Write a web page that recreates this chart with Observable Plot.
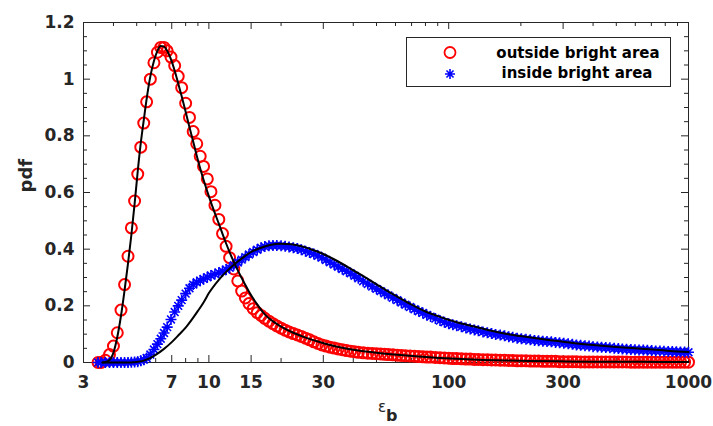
<!DOCTYPE html>
<html><head><meta charset="utf-8">
<script src="https://cdn.jsdelivr.net/npm/d3@7"></script>
<script src="https://cdn.jsdelivr.net/npm/@observablehq/plot@0.6"></script>
<style>
html,body{margin:0;padding:0;background:#fff;}
#wrap{position:relative;width:713px;height:426px;}
#legend{position:absolute;left:406px;top:37px;width:263px;height:48px;border:1px solid #262626;background:#fff;}
#legend svg{display:block;}
</style></head><body>
<div id="wrap"><div id="chart"></div><div id="legend"></div></div>
<script>
// ---------- data ----------
const seriesNames = ["outside bright area", "inside bright area"];

const eps = [3.45,3.55,3.7,3.85,4.0,4.15,4.3,4.45,4.6,4.75,
  4.9,5.05,5.2,5.35,5.5,5.7,5.9,6.1,6.3,6.5,
  6.7,6.95,7.2,7.45,7.7,8.0,8.3,8.6,8.9,9.2,
  9.5,9.85,10.2,10.6,11,11.4,11.8,12.2,12.7,13.2,
  13.7,14.2,14.7,15.3,15.9,16.5,17.1,17.8,18.5,19.2,
  20,20.8,21.6,22.5,23.4,24.3,25.3,26.3,27.4,28.5,
  29.6,30.8,32,33.3,34.6,36,37.5,39,40.5,42,
  44,46,48,50,52,54,56,58.5,61,63.5,
  66,69,72,75,78,81,84,88,92,96,
  100,104,108,113,118,123,128,133,139,145,
  151,157,164,171,178,185,193,201,210,219,
  228,237,247,257,268,279,290,302,315,328,
  341,355,370,385,400,417,434,452,470,490,
  510,530,552,575,598,622,648,674,702,730,
  760,790,823,856,890,926,963,1000];

const outside = [0,0,0.008,0.028,0.058,0.105,0.185,0.275,0.375,0.475,
  0.57,0.665,0.76,0.845,0.92,1.0,1.058,1.095,1.112,1.112,
  1.10,1.078,1.048,1.01,0.97,0.915,0.865,0.815,0.772,0.728,
  0.692,0.648,0.603,0.555,0.505,0.455,0.41,0.37,0.33,0.288,
  0.252,0.228,0.208,0.19,0.176,0.166,0.156,0.146,0.137,0.129,
  0.121,0.114,0.108,0.102,0.097,0.092,0.086,0.08,0.073,0.067,
  0.062,0.058,0.054,0.051,0.048,0.045,0.042,0.04,0.038,0.036,
  0.034,0.033,0.032,0.031,0.03,0.029,0.028,0.027,0.026,0.025,
  0.024,0.023,0.022,0.021,0.02,0.019,0.019,0.018,0.017,0.016,
  0.015,0.014,0.014,0.013,0.012,0.012,0.011,0.011,0.01,0.01,
  0.009,0.009,0.008,0.008,0.007,0.007,0.006,0.006,0.006,0.005,
  0.005,0.005,0.004,0.004,0.004,0.004,0.003,0.003,0.003,0.003,
  0.003,0.002,0.002,0.002,0.002,0.002,0.002,0.002,0.002,0.002,
  0.002,0.002,0.002,0.001,0.001,0.001,0.001,0.001,0.001,0.001,
  0.001,0.001,0.001,0.001,0.001,0.001,0.001,0.001];

const inside = [0,0,0,0,0,0,0,0,0,0.001,
  0.002,0.003,0.006,0.01,0.016,0.028,0.046,0.065,0.084,0.104,
  0.125,0.152,0.178,0.2,0.22,0.243,0.262,0.275,0.283,0.289,
  0.295,0.301,0.307,0.312,0.317,0.322,0.328,0.334,0.343,0.353,
  0.363,0.372,0.381,0.39,0.398,0.405,0.409,0.412,0.413,0.413,
  0.412,0.41,0.408,0.405,0.402,0.398,0.393,0.388,0.383,0.377,
  0.37,0.362,0.354,0.346,0.338,0.33,0.322,0.315,0.306,0.297,
  0.287,0.277,0.268,0.26,0.252,0.244,0.237,0.228,0.22,0.212,
  0.204,0.196,0.188,0.181,0.175,0.168,0.162,0.155,0.148,0.142,
  0.137,0.133,0.13,0.126,0.122,0.118,0.115,0.112,0.108,0.105,
  0.102,0.099,0.097,0.094,0.091,0.089,0.086,0.084,0.082,0.08,
  0.078,0.077,0.075,0.074,0.073,0.071,0.07,0.068,0.066,0.064,
  0.062,0.061,0.059,0.058,0.056,0.055,0.054,0.053,0.052,0.05,
  0.049,0.048,0.047,0.046,0.045,0.044,0.044,0.043,0.042,0.041,
  0.041,0.04,0.039,0.039,0.038,0.037,0.037,0.036];

const fitOutX = [3.6,3.8,4.0,4.15,4.3,4.45,4.6,4.75,4.9,5.05,5.2,5.35,5.5,5.7,5.9,6.1,6.3,6.5,6.7,6.95,
  7.2,7.45,7.7,8.0,8.3,8.6,8.9,9.2,9.5,10.2,11,11.8,12.7,13.7,14.7,15.9,17.1,18.5,20,22.5,
  25.3,28.5,32,36,42,50,61,75,92,113,139,171,219,290,400,552,760,1000];
const fitOutY = [0,0.005,0.035,0.09,0.165,0.255,0.35,0.45,0.56,0.675,0.775,0.855,0.93,1.01,1.064,1.10,1.117,1.115,1.10,1.07,
  1.03,0.985,0.94,0.885,0.83,0.78,0.73,0.685,0.645,0.565,0.49,0.42,0.355,0.298,0.25,0.205,0.17,0.145,0.127,0.105,
  0.088,0.074,0.062,0.052,0.042,0.034,0.027,0.021,0.016,0.012,0.009,0.007,0.005,0.004,0.003,0.0025,0.002,0.0015];

const fitInX = [3.6,4.0,4.5,5,5.5,6,6.5,7,7.5,8,8.5,9,9.5,10,11,12,13,14,15,16.5,18,20,22,24.3,27,30,34,38,43,50,
  58,68,80,92,108,128,150,180,220,270,330,400,500,620,760,900,1000];
const fitInY = [0,0,0,0.002,0.01,0.027,0.048,0.072,0.098,0.123,0.152,0.182,0.212,0.245,0.292,0.326,0.352,0.373,0.39,0.405,0.415,0.419,0.417,0.41,0.398,0.383,0.36,0.337,0.31,0.276,
  0.243,0.21,0.18,0.161,0.142,0.127,0.112,0.099,0.088,0.078,0.069,0.062,0.055,0.049,0.044,0.039,0.037];

const xMajor = [3,7,10,15,30,100,300,1000];
const xTickLabels = ["3","7","10","15","30","100","300","1000"];
const xMinor = [4,5,6,8,9,20,40,50,60,70,80,90,200,400,500,600,700,800,900];
const yMajor = [0,0.2,0.4,0.6,0.8,1,1.2];
const yTickLabels = ["0","0.2","0.4","0.6","0.8","1","1.2"];
const yMinor = [0.05,0.1,0.15,0.25,0.3,0.35,0.45,0.5,0.55,0.65,0.7,0.75,0.85,0.9,0.95,1.05,1.1,1.15];
const xLabelMain = "\u03B5", xLabelSub = "b", yLabel = "pdf";

// ---------- layout / style ----------
const W = 713, H = 426, mL = 83, mR = 25, mT = 22, mB = 64;
const innerW = W - mL - mR, innerH = H - mT - mB;
const axisColor = "#262626";
const FONT = "DejaVu Sans";
const RED = "#ff0000", BLUE = "#0000ff";
const majorLen = 7, minorLen = 4;

const outsidePts = eps.map((x, i) => ({x, y: outside[i]}));
const insidePts = eps.map((x, i) => ({x, y: inside[i]}));
const fitOut = fitOutX.map((x, i) => ({x, y: fitOutY[i]}));
const fitIn = fitInX.map((x, i) => ({x, y: fitInY[i]}));

const asterisk = {
  draw(ctx, size) {
    const r = Math.sqrt(size / Math.PI);
    const d = r * Math.SQRT1_2;
    ctx.moveTo(-r, 0); ctx.lineTo(r, 0);
    ctx.moveTo(0, -r); ctx.lineTo(0, r);
    ctx.moveTo(-d, -d); ctx.lineTo(d, d);
    ctx.moveTo(-d, d); ctx.lineTo(d, -d);
  }
};

const tickStyle = {stroke: axisColor, strokeWidth: 1};
const chart = Plot.plot({
  width: W, height: H,
  marginLeft: mL, marginRight: mR, marginTop: mT, marginBottom: mB,
  style: {fontFamily: FONT, background: "white", overflow: "visible"},
  x: {type: "log", domain: [3, 1000], axis: null},
  y: {domain: [0, 1.2], axis: null},
  marks: [
    Plot.frame({stroke: axisColor, strokeWidth: 1}),
    // x ticks bottom & top (inward)
    Plot.tickX(xMajor, {x: d => d, insetTop: innerH - majorLen, ...tickStyle}),
    Plot.tickX(xMajor, {x: d => d, insetBottom: innerH - majorLen, ...tickStyle}),
    Plot.tickX(xMinor, {x: d => d, insetTop: innerH - minorLen, ...tickStyle}),
    Plot.tickX(xMinor, {x: d => d, insetBottom: innerH - minorLen, ...tickStyle}),
    // y ticks left & right (inward)
    Plot.tickY(yMajor, {y: d => d, insetRight: innerW - majorLen, ...tickStyle}),
    Plot.tickY(yMajor, {y: d => d, insetLeft: innerW - majorLen, ...tickStyle}),
    Plot.tickY(yMinor, {y: d => d, insetRight: innerW - minorLen, ...tickStyle}),
    Plot.tickY(yMinor, {y: d => d, insetLeft: innerW - minorLen, ...tickStyle}),
    // tick labels
    Plot.text(xMajor, {x: d => d, text: (d, i) => xTickLabels[i], frameAnchor: "bottom", lineAnchor: "top",
      dy: 13, fontSize: 17, fontWeight: "bold", fill: axisColor}),
    Plot.text(yMajor, {y: d => d, text: (d, i) => yTickLabels[i], frameAnchor: "left", textAnchor: "end",
      lineAnchor: "middle", dx: -9, fontSize: 17, fontWeight: "bold", fill: axisColor}),
    // axis labels
    Plot.text([yLabel], {text: d => d, frameAnchor: "left", rotate: -90, dx: -57, lineAnchor: "middle",
      fontSize: 18, fontWeight: "bold", fill: axisColor}),
    Plot.text([xLabelMain], {text: d => d, frameAnchor: "bottom", textAnchor: "middle", lineAnchor: "middle",
      dx: -4, dy: 45, fontSize: 15, fill: axisColor}),
    Plot.text([xLabelSub], {text: d => d, frameAnchor: "bottom", textAnchor: "start", lineAnchor: "middle",
      dx: 0, dy: 53, fontSize: 16, fontWeight: "bold", fill: axisColor}),
    // data
    Plot.dot(outsidePts, {x: "x", y: "y", r: 5.5, stroke: RED, fill: "none", strokeWidth: 2}),
    Plot.dot(insidePts, {x: "x", y: "y", r: 5.5, symbol: asterisk, stroke: BLUE, fill: "none", strokeWidth: 1.6}),
    Plot.line(fitOut, {x: "x", y: "y", stroke: "black", strokeWidth: 2, curve: "monotone-x"}),
    Plot.line(fitIn, {x: "x", y: "y", stroke: "black", strokeWidth: 2, curve: "monotone-x"})
  ]
});
document.getElementById("chart").appendChild(chart);

// ---------- legend (overlay inside the axes) ----------
const ns = "http://www.w3.org/2000/svg";
const lg = document.createElementNS(ns, "svg");
lg.setAttribute("width", 263); lg.setAttribute("height", 48);
const rows = [{cy: 14.5, by: 19.8, tx: 171}, {cy: 36, by: 40.3, tx: 170}];
rows.forEach((row, i) => {
  if (i === 0) {
    const c = document.createElementNS(ns, "circle");
    c.setAttribute("cx", 43); c.setAttribute("cy", row.cy); c.setAttribute("r", 5.5);
    c.setAttribute("fill", "none"); c.setAttribute("stroke", RED); c.setAttribute("stroke-width", 1.8);
    lg.appendChild(c);
  } else {
    const p = document.createElementNS(ns, "path");
    const path = d3.path(); asterisk.draw(path, 5 * 5 * Math.PI);
    p.setAttribute("d", path.toString());
    p.setAttribute("transform", `translate(43,${row.cy})`);
    p.setAttribute("fill", "none"); p.setAttribute("stroke", BLUE); p.setAttribute("stroke-width", 1.6);
    lg.appendChild(p);
  }
  const t = document.createElementNS(ns, "text");
  t.setAttribute("x", row.tx); t.setAttribute("y", row.by);
  t.setAttribute("text-anchor", "middle");
  t.setAttribute("font-family", FONT); t.setAttribute("font-size", 15); t.setAttribute("font-weight", "bold");
  t.setAttribute("fill", "#000");
  t.textContent = seriesNames[i];
  lg.appendChild(t);
});
document.getElementById("legend").appendChild(lg);
</script>
</body></html>
